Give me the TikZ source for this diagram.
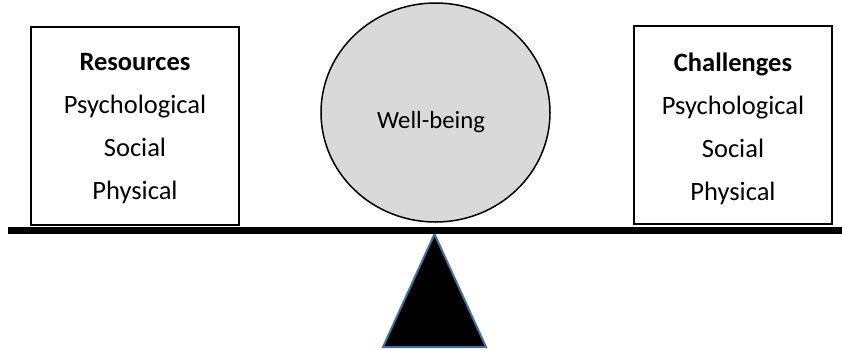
\documentclass[tikz,border=0pt]{standalone}
\usepackage{fontspec}
\setmainfont{Carlito}
\usepackage{tikz}
\usetikzlibrary{shapes.geometric}
\definecolor{ballgray}{HTML}{D9D9D9}
\definecolor{edgeblue}{HTML}{41719C}

\begin{document}
\begin{tikzpicture}[x=1pt, y=-1pt,
  box/.style={draw, line width=2pt, rectangle, inner sep=0pt},
  boxtext/.style={align=center, inner sep=0pt, font=\fontsize{26.5}{43}\selectfont},
  ball/.style={draw, line width=1.5pt, fill=ballgray, ellipse, inner sep=0pt}]
\useasboundingbox (0,0) rectangle (842,349);

% Fulcrum
\coordinate (tip) at (434.5,234);
\draw[edgeblue, line width=2pt, fill=black] (383,347) -- (tip) -- (486,347) -- cycle;

% Beam
\coordinate (beamL) at (8,230.5);
\coordinate (beamR) at (842,230.5);
\draw[line width=7pt] (beamL) -- (beamR);

% Left box
\node[box, minimum width=208pt, minimum height=198pt] (res) at (135,126) {};
\node[boxtext] (restext) at (135,129) {\textbf{Resources}\\Psychological\\Social\\Physical};

% Right box
\node[box, minimum width=198pt, minimum height=198pt] (chal) at (733,125) {};
\node[boxtext] (chaltext) at (733,129) {\textbf{Challenges}\\Psychological\\Social\\Physical};

% Ball
\node[ball, minimum width=229pt, minimum height=219pt] (wb) at (435.5,112.5) {};
\node[anchor=base, inner sep=0pt, font=\fontsize{24.7}{28}\selectfont] (wbtext) at (431,128.5) {Well-being};
\end{tikzpicture}
\end{document}
